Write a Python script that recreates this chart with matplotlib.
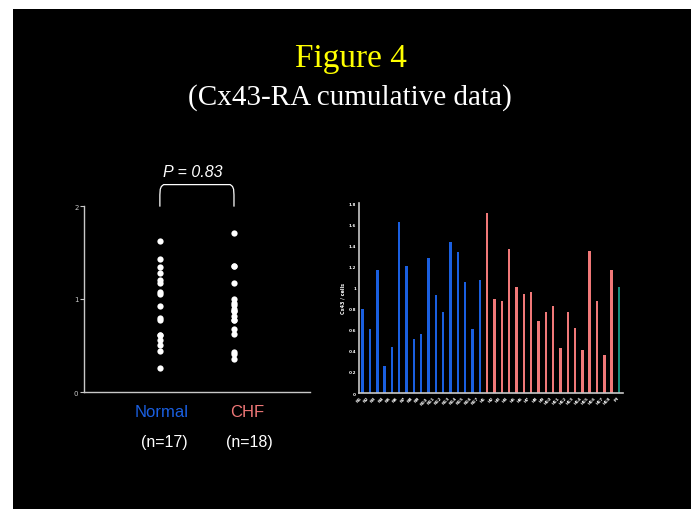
import numpy as np
import matplotlib
matplotlib.use('Agg')
import matplotlib.pyplot as plt
from matplotlib.patches import Rectangle

# Cx43-RA values (same values as the scatter)
normal_vals = [0.80, 0.61, 1.17, 0.26, 0.44, 1.62, 1.20, 0.51, 0.56, 1.28,
               0.93, 0.77, 1.43, 1.34, 1.05, 0.61, 1.07]
chf_vals = [1.71, 0.89, 0.87, 1.36, 1.00, 0.94, 0.96, 0.68, 0.77, 0.82,
            0.43, 0.77, 0.62, 0.41, 1.35, 0.87, 0.36, 1.17]
extra_vals = [1.00]

groups = ['Normal', 'CHF']
group_n = ['(n=17)', '(n=18)']
bar_labels = (['N%d' % (i + 1) for i in range(len(normal_vals))]
              + ['H%d' % (i + 1) for i in range(len(chf_vals))]
              + ['M'])

BLUE = '#1a5fe0'
PINK = '#f07878'
TEAL = '#178a7a'
AXC = '#c8c8c8'
SANS = 'Liberation Sans'
SERIF = 'Liberation Serif'

W, H = 691, 510
fig = plt.figure(figsize=(W / 100, H / 100), dpi=100)
fig.patch.set_facecolor('black')
# white strips on the left and top edges of the slide
fig.patches.append(Rectangle((0, 0), 13 / W, 1, transform=fig.transFigure,
                             facecolor='white', edgecolor='none', zorder=-10))
fig.patches.append(Rectangle((0, 1 - 10 / H), 1, 10 / H, transform=fig.transFigure,
                             facecolor='white', edgecolor='none', zorder=-10))

fig.text(351 / W, 1 - 67 / H, 'Figure 4', color='#ffff00', fontsize=24,
         family=SERIF, ha='center', va='baseline')
fig.text(350 / W, 1 - 105 / H, '(Cx43-RA cumulative data)', color='white', fontsize=21,
         family=SERIF, ha='center', va='baseline')

# ---- left scatter ----
ax1 = fig.add_axes([84 / W, 1 - 393 / H, 226 / W, 186 / H])
ax1.set_facecolor('none')
ax1.plot(np.full(len(normal_vals), 1), normal_vals, 'o', color='white', ms=4.5, mec='none', clip_on=False)
ax1.plot(np.full(len(chf_vals), 2), chf_vals, 'o', color='white', ms=4.5, mec='none', clip_on=False)
ax1.set_xlim(-0.024, 3.026)
ax1.set_ylim(0, 2)
ax1.set_yticks([0, 1, 2])
ax1.set_xticks([])
for s in ['top', 'right']:
    ax1.spines[s].set_visible(False)
for s in ['left', 'bottom']:
    ax1.spines[s].set_color(AXC)
    ax1.spines[s].set_linewidth(1)
ax1.tick_params(axis='y', colors=AXC, labelsize=5, length=3, width=0.8, pad=1)

# bracket + p value
bx = [1, 1, 1.005, 1.02, 1.05, 1.95, 1.98, 1.995, 2, 2]
by = [2.0, 2.12, 2.18, 2.21, 2.23, 2.23, 2.21, 2.18, 2.12, 2.0]
ax1.plot(bx, by, color='white', lw=0.9, clip_on=False)
fig.text(193 / W, 1 - 177 / H, 'P = 0.83', color='white', fontsize=11.5, style='italic',
         family=SANS, ha='center', va='baseline')

fig.text(162 / W, 1 - 417 / H, groups[0], color=BLUE, fontsize=12, family=SANS,
         ha='center', va='baseline')
fig.text(247 / W, 1 - 417 / H, groups[1], color=PINK, fontsize=12, family=SANS,
         ha='center', va='baseline')
fig.text(164 / W, 1 - 447 / H, group_n[0], color='white', fontsize=11.5, family=SANS,
         ha='center', va='baseline')
fig.text(249 / W, 1 - 447 / H, group_n[1], color='white', fontsize=11.5, family=SANS,
         ha='center', va='baseline')

# ---- right bar chart ----
ax2 = fig.add_axes([359 / W, 1 - 394 / H, 264 / W, 190 / H])
ax2.set_facecolor('none')
all_vals = normal_vals + chf_vals + extra_vals
colors = [BLUE] * len(normal_vals) + [PINK] * len(chf_vals) + [TEAL] * len(extra_vals)
x = np.arange(len(all_vals))
ax2.bar(x, all_vals, width=0.33, color=colors)
ax2.set_xlim(-0.5, len(all_vals) - 0.45)
ax2.set_ylim(0, 1.8)
ax2.set_yticks(np.arange(0, 1.81, 0.2))
ax2.set_yticklabels(['0', '0.2', '0.4', '0.6', '0.8', '1', '1.2', '1.4', '1.6', '1.8'],
                    fontweight='bold')
ax2.set_xticks(x)
ax2.set_xticklabels(bar_labels, rotation=45, ha='right', fontweight='bold')
ax2.tick_params(colors='white', labelsize=3, length=0, pad=2)
ax2.set_ylabel('Cx43 / cells', color='white', fontsize=3.5, fontweight='bold', labelpad=2)
for s in ['top', 'right']:
    ax2.spines[s].set_visible(False)
for s in ['left', 'bottom']:
    ax2.spines[s].set_color(AXC)
    ax2.spines[s].set_linewidth(1.2)

plt.savefig('out.png', dpi=100, facecolor=fig.get_facecolor())
